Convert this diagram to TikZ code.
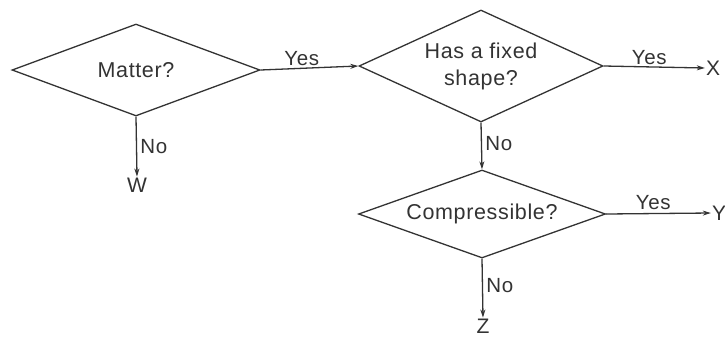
\documentclass[tikz,border=0pt]{standalone}
\usepackage{fontspec}
\setmainfont{Liberation Sans}[LetterSpace=3]
\usetikzlibrary{shapes.geometric,arrows.meta}
\tikzset{>={Stealth[length=8pt,width=5pt]}}
\tikzset{
  decision/.style={
    draw=black!80, diamond, line width=1.3pt, inner sep=0pt,
    align=center, text=black!80, font=\fontsize{21.5}{27}\selectfont
  }}
\tikzset{
  outcome/.style={
    inner sep=1pt, text=black!80, font=\fontsize{21}{24}\selectfont
  }}
\tikzset{
  flow/.style={
    ->, line width=1.3pt, draw=black!80,
    every node/.style={text=black!80, font=\fontsize{20.5}{22}\selectfont}
  }}

\begin{document}
\begin{tikzpicture}[x=1pt,y=-1pt]
    \useasboundingbox (0,0) rectangle (725,338);
    \node[decision,aspect=2.7,minimum width=248pt,minimum height=92pt](matter) at (136,70) {Matter?};
    \node[decision,aspect=2.18,minimum width=244pt,minimum height=112pt](fixed) at (481,66) {Has a fixed\\shape?};
    \node[decision,aspect=2.8,minimum width=247pt,minimum height=88pt](compr) at (482,214) {Compressible?};
    \node[outcome](W) at (137,185) {W};
    \node[outcome](X) at (713,68) {X};
    \node[outcome](Y) at (719,213) {Y};
    \node[outcome](Z) at (483,326) {Z};
    \draw[flow] (matter.east) -- node[above,pos=0.42,inner sep=2pt]{Yes} (fixed.west);
    \draw[flow] (matter.south) -- node[right,pos=0.5]{No} (W.north);
    \draw[flow] (fixed.east) -- node[above,pos=0.45,inner sep=2pt]{Yes} (X.west);
    \draw[flow] (fixed.south) -- node[right,pos=0.45]{No} (compr.north);
    \draw[flow] (compr.east) -- node[above,pos=0.45,inner sep=3pt]{Yes} (Y.west);
    \draw[flow] (compr.south) -- node[right,pos=0.45]{No} (Z.north);
\end{tikzpicture}
\end{document}
